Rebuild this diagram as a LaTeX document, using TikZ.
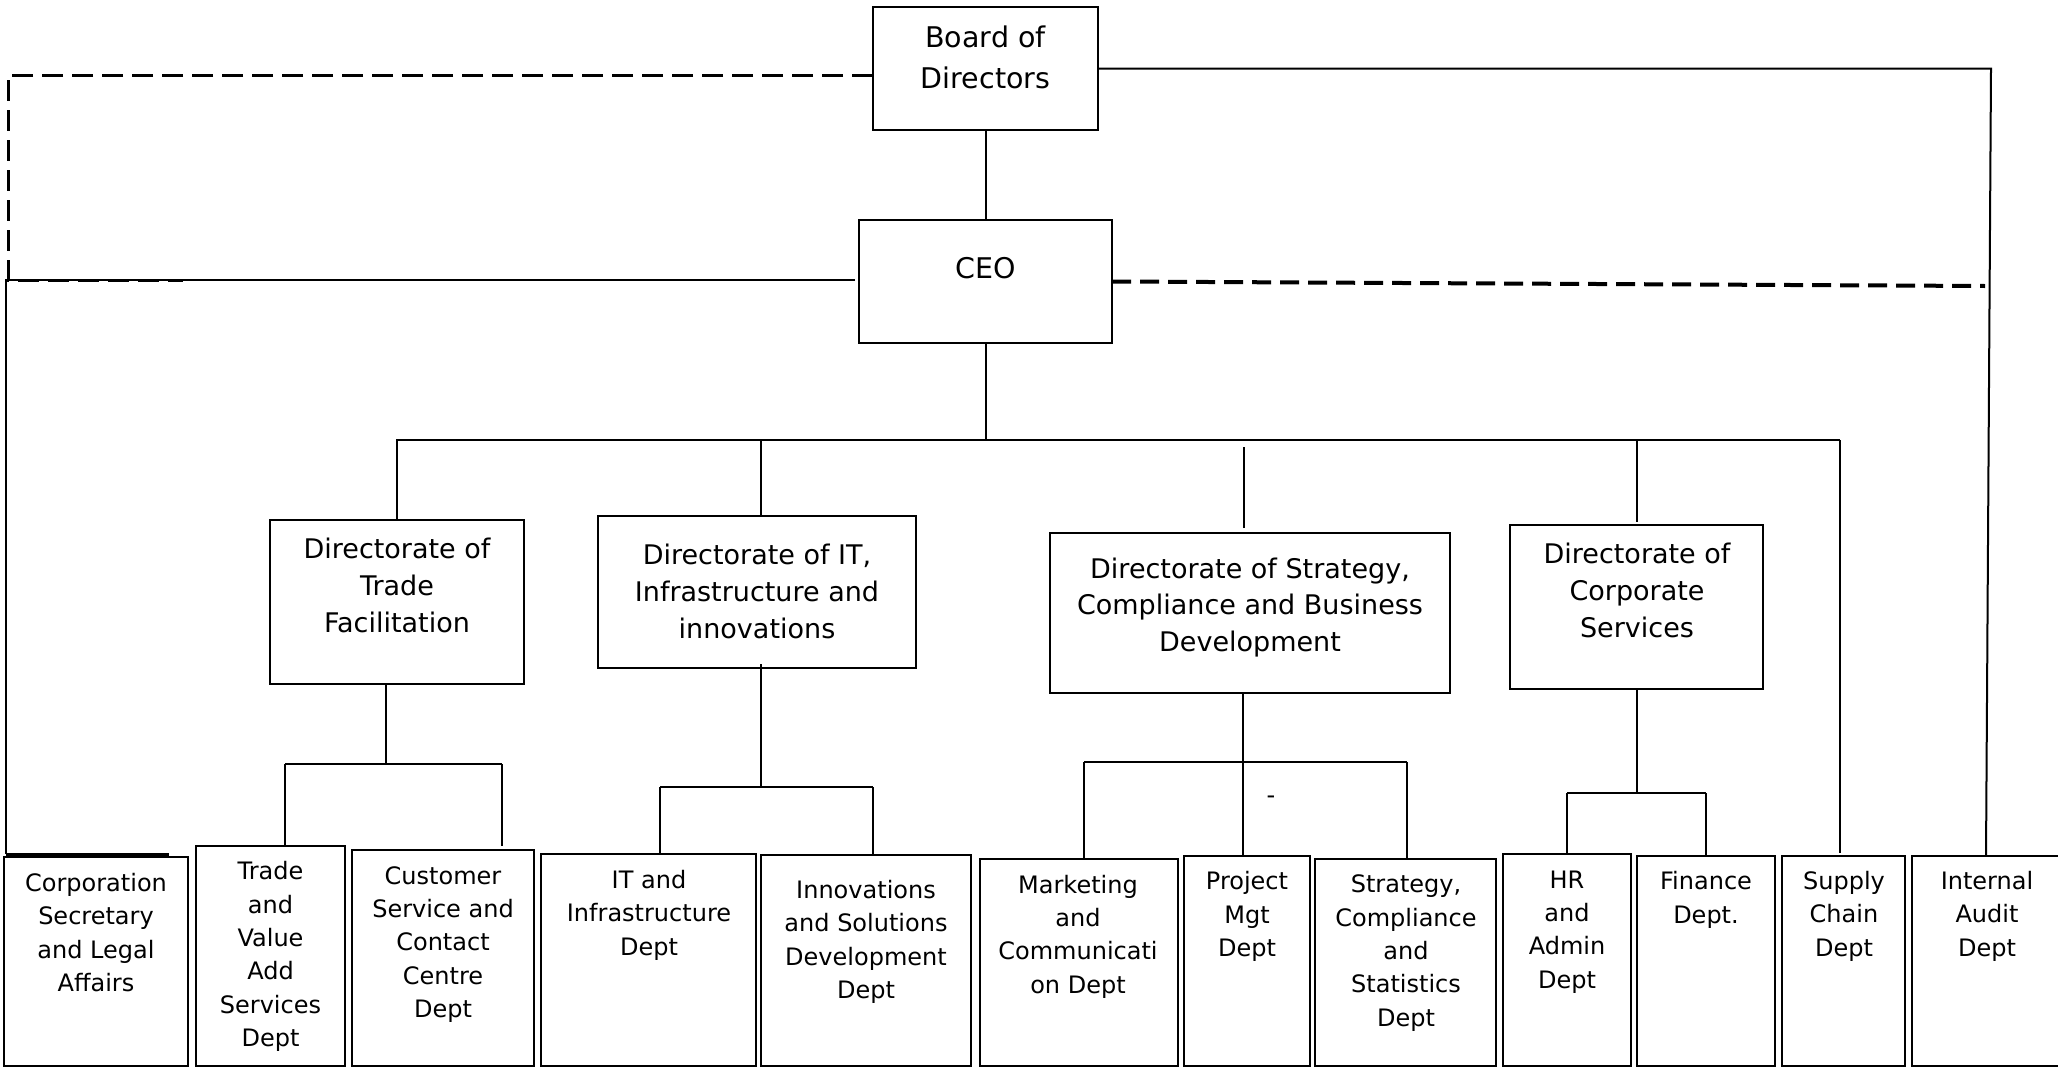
\documentclass[tikz,border=0pt]{standalone}
\usepackage{fontspec}
\setmainfont{DejaVu Sans}
\usetikzlibrary{calc}
\begin{document}
\begin{tikzpicture}[x=1pt,y=-1pt,
  box/.style={draw, line width=2.6pt, inner sep=0pt, outer sep=0pt, anchor=north west},
  lbl/.style={align=center, inner sep=0pt, font=\fontsize{24}{33.4}\selectfont},
  dlbl/.style={align=center, inner sep=0pt, font=\fontsize{27}{36.8}\selectfont},
  blbl/.style={align=center, inner sep=0pt, font=\fontsize{28.5}{41}\selectfont},
  conn/.style={line width=2pt},
  dashA/.style={line width=3pt, dash pattern=on 21pt off 9pt},
  dashB/.style={line width=4pt, dash pattern=on 19pt off 9pt}]
\path[use as bounding box, clip] (0,0) rectangle (2058,1068);

% top level
\node[box, minimum width=225pt, minimum height=123pt] (board) at (873,7) {};
\node[blbl] (boardT) at (985.5,57.5) {Board of\\Directors};
\node[box, minimum width=253pt, minimum height=123pt] (ceo) at (859,220) {};
\node[blbl] (ceoT) at (986,268) {CEO};

% directorates
\node[box, minimum width=254pt, minimum height=164pt] (tf) at (270,520) {};
\node[dlbl] (tfT) at (397,585.5) {Directorate of\\Trade\\Facilitation};
\node[box, minimum width=318pt, minimum height=152pt] (itd) at (598,516) {};
\node[dlbl] (itdT) at (757,591.5) {Directorate of IT,\\Infrastructure and\\innovations};
\node[box, minimum width=400pt, minimum height=160pt] (scd) at (1050,533) {};
\node[dlbl] (scdT) at (1250,607.5) {Directorate of Strategy,\\Compliance and Business\\Development};
\node[box, minimum width=253pt, minimum height=164pt] (csd) at (1510,525) {};
\node[dlbl] (csdT) at (1637,590.5) {Directorate of\\Corporate\\Services};

% departments
\node[box, minimum width=184pt, minimum height=209pt] (corp) at (4,857) {};
\node[lbl] (corpT) at (96,932.5) {Corporation\\Secretary\\and Legal\\Affairs};
\node[box, minimum width=149pt, minimum height=220pt] (trade) at (196,846) {};
\node[lbl] (tradeT) at (270.5,956.5) {Trade\\and\\Value\\Add\\Services\\Dept};
\node[box, minimum width=182pt, minimum height=216pt] (cust) at (352,850) {};
\node[lbl] (custT) at (443,944.5) {Customer\\Service and\\Contact\\Centre\\Dept};
\node[box, minimum width=215pt, minimum height=212pt] (iti) at (541,854) {};
\node[lbl] (itiT) at (649,915) {IT and\\Infrastructure\\Dept};
\node[box, minimum width=210pt, minimum height=211pt] (inno) at (761,855) {};
\node[lbl] (innoT) at (866,942) {Innovations\\and Solutions\\Development\\Dept};
\node[box, minimum width=198pt, minimum height=207pt] (mkt) at (980,859) {};
\node[lbl] (mktT) at (1078,936.5) {Marketing\\and\\Communicati\\on Dept};
\node[box, minimum width=126pt, minimum height=210pt] (pm) at (1184,856) {};
\node[lbl] (pmT) at (1247,916.5) {Project\\Mgt\\Dept};
\node[box, minimum width=181pt, minimum height=207pt] (strat) at (1315,859) {};
\node[lbl] (stratT) at (1406,953) {Strategy,\\Compliance\\and\\Statistics\\Dept};
\node[box, minimum width=128pt, minimum height=212pt] (hr) at (1503,854) {};
\node[lbl] (hrT) at (1567,932) {HR\\and\\Admin\\Dept};
\node[box, minimum width=138pt, minimum height=210pt] (fin) at (1637,856) {};
\node[lbl] (finT) at (1706,900) {Finance\\Dept.};
\node[box, minimum width=123pt, minimum height=210pt] (sup) at (1782,856) {};
\node[lbl] (supT) at (1844,916) {Supply\\Chain\\Dept};
\node[box, minimum width=168pt, minimum height=210pt] (aud) at (1912,856) {};
\node[lbl] (audT) at (1987,916) {Internal\\Audit\\Dept};

\node[inner sep=0pt, font=\fontsize{24}{24}\selectfont] (tick) at (1271,800) {-};

% board - ceo - bus
\coordinate (busL) at (396,440);
\coordinate (busR) at (1840,440);
\draw[conn] (board.south) -- (board.south |- ceo.north);
\draw[conn] (ceo.south) -- (ceo.south |- busL);
\draw[conn] (busL) -- (busR);
\draw[conn] (tf.north |- busL) -- (tf.north);
\coordinate (itdD) at ($(itd.north)+(4,0)$);
\draw[conn] (itdD |- busL) -- (itdD);
\coordinate (scdD) at ($(scd.north)+(-6,-5)$);
\draw[conn] (scdD) -- ++(0,-81);
\draw[conn] (csd.north |- busL) -- ($(csd.north)+(0,-3)$);
\draw[conn] (busR) -- ($(busR |- sup.north)+(0,-3)$);

% trade facilitation branch
\coordinate (tfJ) at ($(tf.south)+(-11,0)$);
\coordinate (tfL) at (285,764);
\coordinate (tfR) at (502,764);
\draw[conn] (tfJ) -- (tfJ |- tfL);
\draw[conn] (tfL) -- (tfR);
\draw[conn] (tfL) -- (tfL |- trade.north);
\draw[conn] (tfR) -- ($(tfR |- cust.north)+(0,-4)$);

% IT branch
\coordinate (itJ) at ($(itd.south)+(4,-4)$);
\coordinate (itL) at (660,787);
\coordinate (itR) at (873,787);
\draw[conn] (itJ) -- (itJ |- itL);
\draw[conn] (itL) -- (itR);
\draw[conn] (itL) -- (itL |- iti.north);
\draw[conn] (itR) -- (itR |- inno.north);

% strategy branch
\coordinate (scJ) at ($(scd.south)+(-7,0)$);
\coordinate (scL) at (1084,762);
\coordinate (scR) at (1407,762);
\draw[conn] (scJ) -- (scJ |- pm.north);
\draw[conn] (scL) -- (scR);
\draw[conn] (scL) -- (scL |- mkt.north);
\draw[conn] (scR) -- (scR |- strat.north);

% corporate services branch
\coordinate (csL) at (1567,793);
\coordinate (csR) at (1706,793);
\draw[conn] (csd.south) -- (csd.south |- csL);
\draw[conn] (csL) -- (csR);
\draw[conn] (csL) -- (csL |- hr.north);
\draw[conn] (csR) -- (csR |- fin.north);

% right side lines
\coordinate (audTop) at (1991,68.5);
\draw[conn] (board.east) -- (audTop) -- ($(aud.north)+(-10,0)$);
\coordinate (ceoDR) at (1985,286);
\draw[dashB] (ceo.east) -- (ceoDR);

% left side lines
\coordinate (lt1) at (8,75);
\coordinate (lt2) at (8,280);
\coordinate (lt3) at (183,280);
\draw[dashA] ($(board.west)+(0,6.5)$) -- (lt1) -- (lt2) -- (lt3);
\coordinate (ls1) at (6,280);
\coordinate (ls2) at (6,854);
\coordinate (ls3) at (169,854);
\draw[conn] ($(ceo.west)+(-4,-1.5)$) -- (ls1) -- (ls2);
\draw[line width=3pt] (ls2) -- (ls3);
\end{tikzpicture}
\end{document}
